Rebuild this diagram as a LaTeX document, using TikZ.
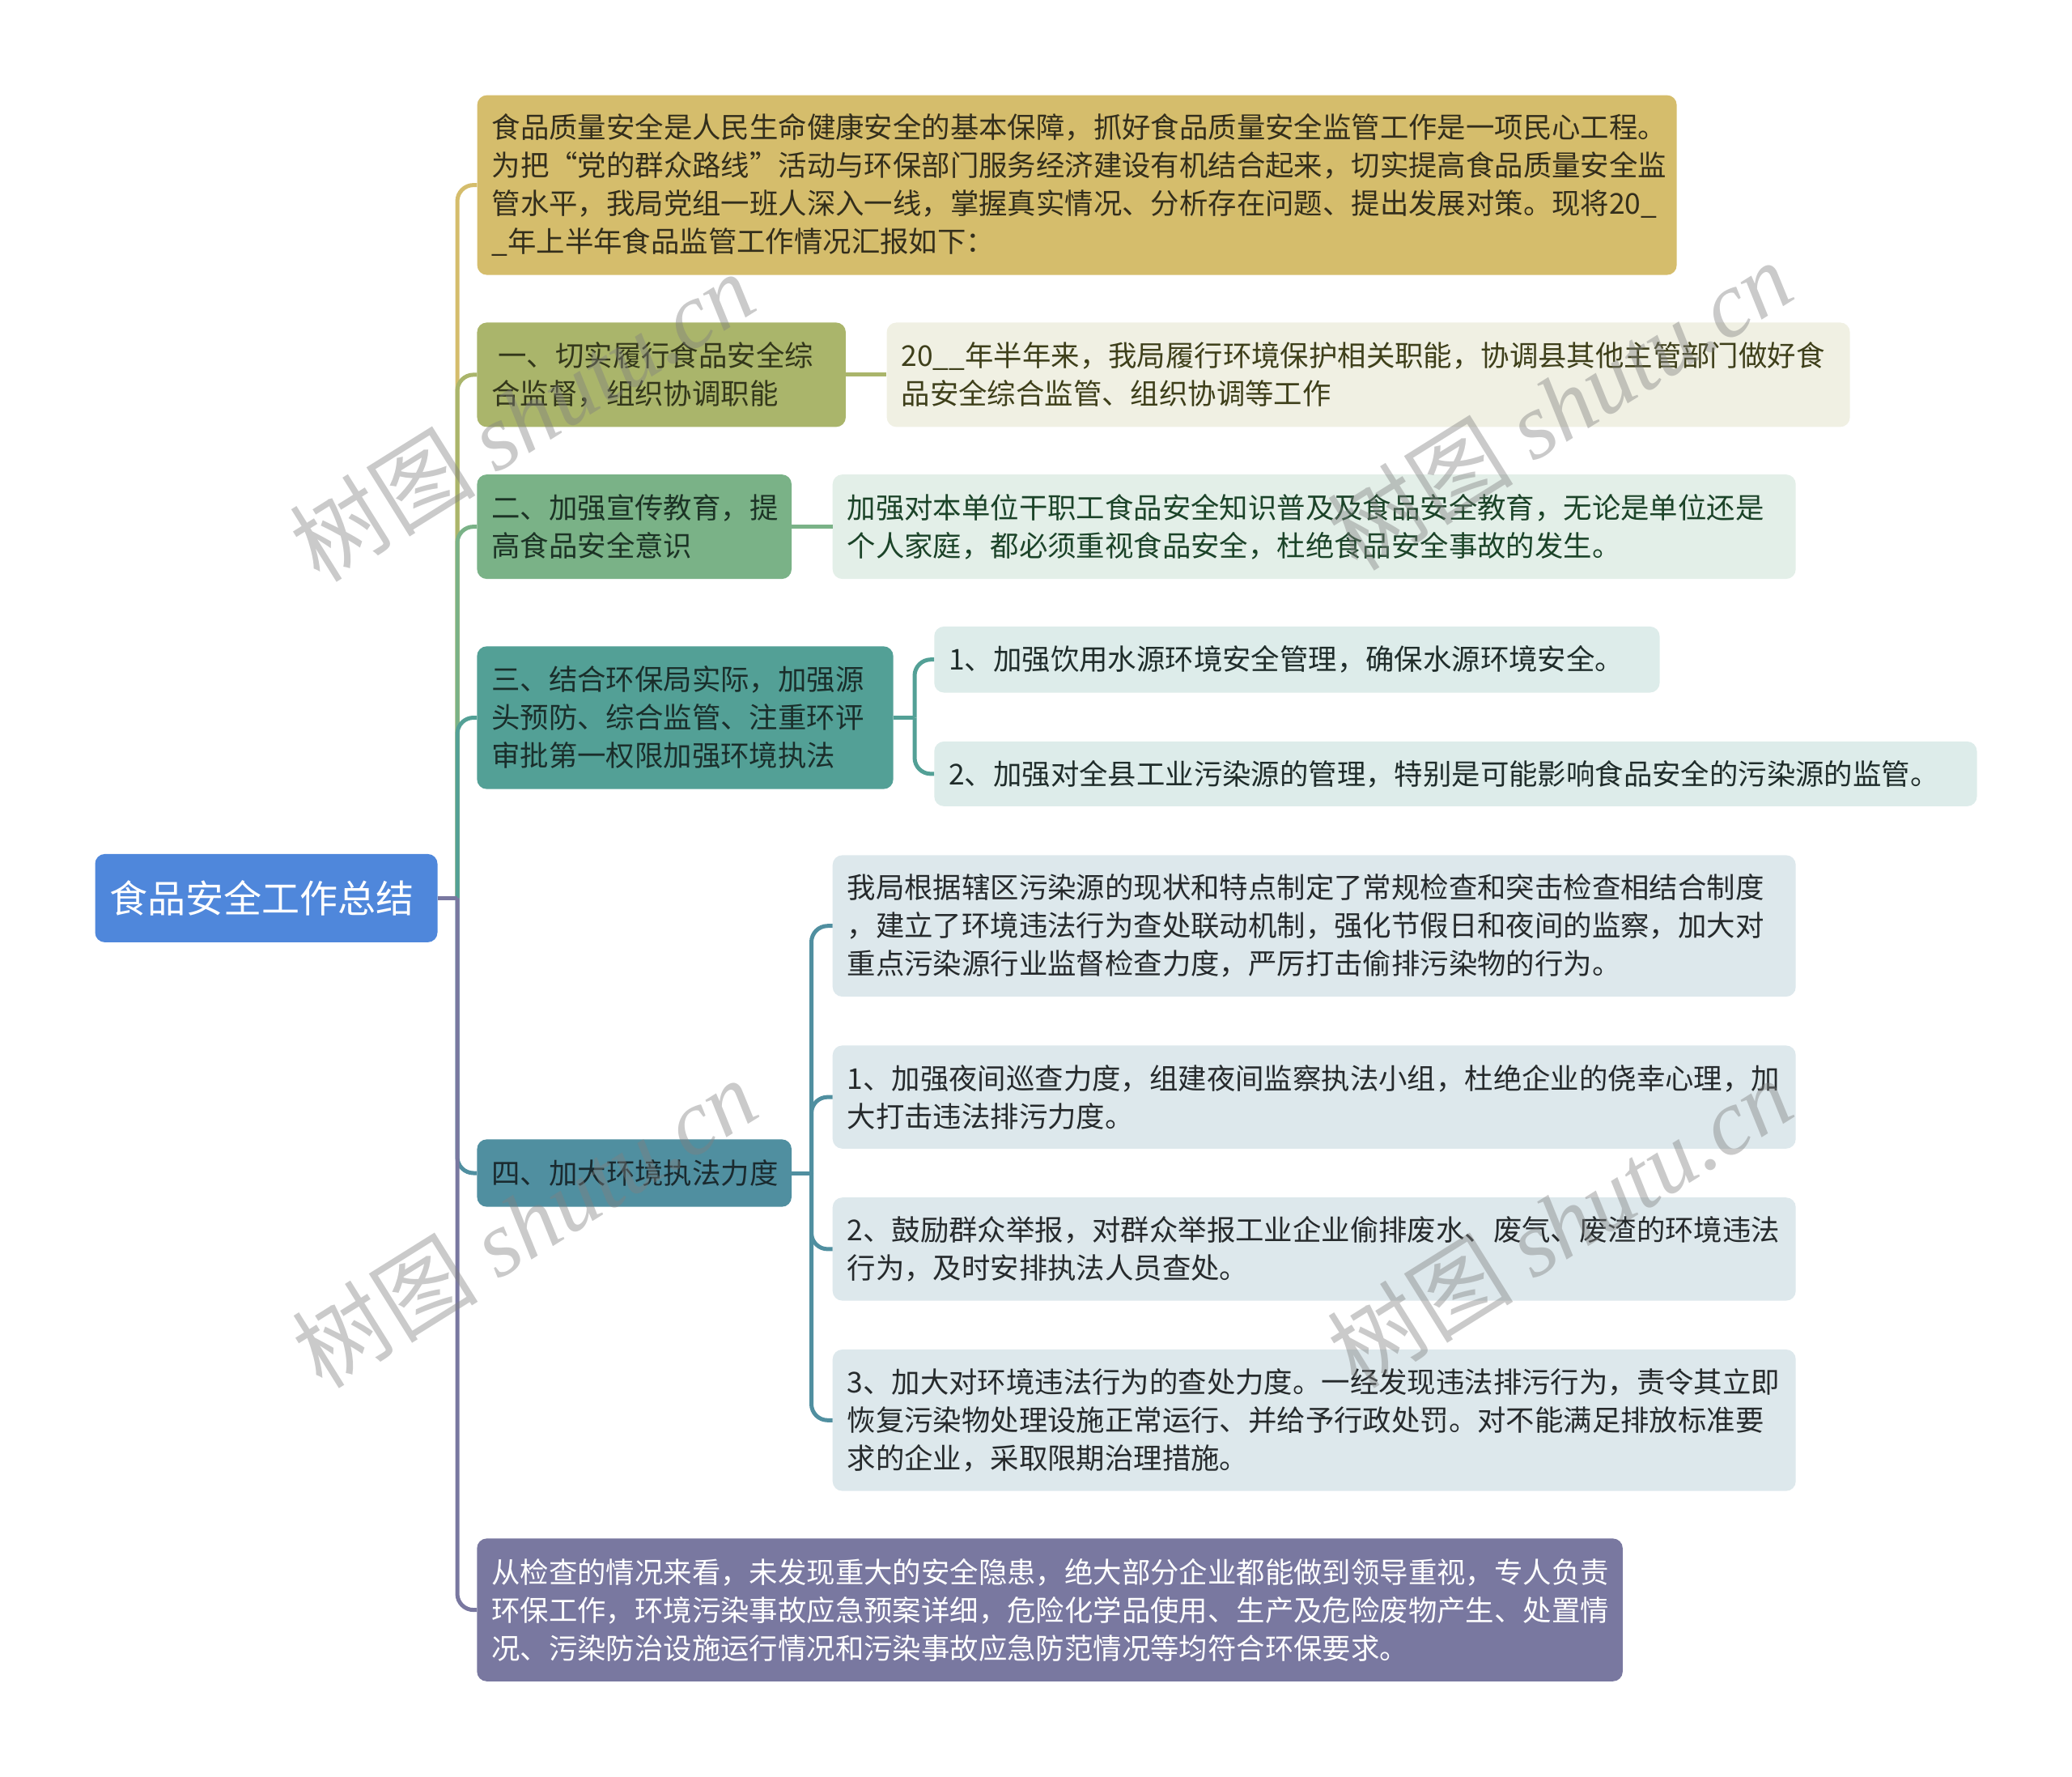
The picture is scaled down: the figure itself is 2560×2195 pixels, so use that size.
\documentclass[tikz,border=0pt]{standalone}
\usepackage{fontspec}
\setmainfont{Noto Sans CJK SC}
\newfontfamily\wmlat{Liberation Serif}
\definecolor{cRoot}{HTML}{4F87DB}
\definecolor{cA}{HTML}{D5BD6C}
\definecolor{cB1}{HTML}{AAB56B}
\definecolor{cB1c}{HTML}{F0F0E3}
\definecolor{cB2}{HTML}{7AB287}
\definecolor{cB2c}{HTML}{E3EFE8}
\definecolor{cB3}{HTML}{53A096}
\definecolor{cB3c}{HTML}{DDECEA}
\definecolor{cB4}{HTML}{508FA0}
\definecolor{cB4c}{HTML}{DDE8EC}
\definecolor{cB5}{HTML}{7978A0}
\definecolor{tA}{HTML}{332E1C}
\definecolor{tB1}{HTML}{33371B}
\definecolor{tB1c}{HTML}{3E3F1A}
\definecolor{tB2}{HTML}{1C3325}
\definecolor{tB2c}{HTML}{1B4328}
\definecolor{tB3}{HTML}{1A2E2B}
\definecolor{tB3c}{HTML}{1F2C2A}
\definecolor{tB4}{HTML}{1A2A2F}
\definecolor{tB4c}{HTML}{262A2C}
\begin{document}
\begin{tikzpicture}[x=1pt,y=-1pt,
  box/.style={rounded corners=12pt, align=left, inner xsep=18pt, inner ysep=0pt,
    font=\fontsize{35.4}{47}\selectfont, anchor=center},
  link/.style={line width=5pt, rounded corners=20pt},
  wm/.style={text=gray, opacity=0.42, rotate=32, font=\fontsize{115}{115}\selectfont, anchor=center}
]
\useasboundingbox (0,0) rectangle (2560,2195);

% root
\node[box, fill=cRoot, text=white, font=\fontsize{47}{56}\selectfont,
  minimum width=423pt, minimum height=109pt, text width=387pt] (root) at (329,1109.4) {食品安全工作总结};

% main branches
\node[box, fill=cA, text=tA, minimum width=1482pt, minimum height=222pt, text width=1446pt] (A) at (1330.6,228.6)
 {食品质量安全是人民生命健康安全的基本保障，抓好食品质量安全监管工作是一项民心工程。\\
  为把“党的群众路线”活动与环保部门服务经济建设有机结合起来，切实提高食品质量安全监\\
  管水平，我局党组一班人深入一线，掌握真实情况、分析存在问题、提出发展对策。现将20\_\\
  \_年上半年食品监管工作情况汇报如下：};

\node[box, fill=cB1, text=tB1, minimum width=455.5pt, minimum height=129pt, text width=419.5pt] (B1) at (817.2,462.9)
 {\hspace*{8pt}一、切实履行食品安全综\\合监督，组织协调职能};
\node[box, fill=cB1c, text=tB1c, minimum width=1190pt, minimum height=129pt, text width=1154pt] (B1c) at (1690.6,462.9)
 {20\_\_年半年来，我局履行环境保护相关职能，协调县其他主管部门做好食\\品安全综合监管、组织协调等工作};

\node[box, fill=cB2, text=tB2, minimum width=388.6pt, minimum height=129pt, text width=352.6pt] (B2) at (783.7,650.6)
 {二、加强宣传教育，提\\高食品安全意识};
\node[box, fill=cB2c, text=tB2c, minimum width=1190pt, minimum height=129pt, text width=1154pt] (B2c) at (1623.7,650.6)
 {加强对本单位干职工食品安全知识普及及食品安全教育，无论是单位还是\\个人家庭，都必须重视食品安全，杜绝食品安全事故的发生。};

\node[box, fill=cB3, text=tB3, minimum width=514.3pt, minimum height=176.3pt, text width=478.3pt] (B3) at (846.5,886.5)
 {三、结合环保局实际，加强源\\头预防、综合监管、注重环评\\审批第一权限加强环境执法};
\node[box, fill=cB3c, text=tB3c, minimum width=896.3pt, minimum height=81.6pt, text width=860.3pt] (B3c1) at (1602.4,814.7)
 {1、加强饮用水源环境安全管理，确保水源环境安全。};
\node[box, fill=cB3c, text=tB3c, minimum width=1288.2pt, minimum height=80pt, text width=1252.2pt] (B3c2) at (1798.4,955.9)
 {2、加强对全县工业污染源的管理，特别是可能影响食品安全的污染源的监管。};

\node[box, fill=cB4, text=tB4, minimum width=388.6pt, minimum height=83.3pt, text width=352.6pt] (B4) at (783.7,1449)
 {四、加大环境执法力度};
\node[box, fill=cB4c, text=tB4c, minimum width=1190pt, minimum height=174.7pt, text width=1154pt] (D0) at (1623.7,1143.7)
 {我局根据辖区污染源的现状和特点制定了常规检查和突击检查相结合制度\\，建立了环境违法行为查处联动机制，强化节假日和夜间的监察，加大对\\重点污染源行业监督检查力度，严厉打击偷排污染物的行为。};
\node[box, fill=cB4c, text=tB4c, minimum width=1190pt, minimum height=127.4pt, text width=1154pt] (D1) at (1623.7,1355.1)
 {1、加强夜间巡查力度，组建夜间监察执法小组，杜绝企业的侥幸心理，加\\大打击违法排污力度。};
\node[box, fill=cB4c, text=tB4c, minimum width=1190pt, minimum height=127.4pt, text width=1154pt] (D2) at (1623.7,1542.9)
 {2、鼓励群众举报，对群众举报工业企业偷排废水、废气、废渣的环境违法\\行为，及时安排执法人员查处。};
\node[box, fill=cB4c, text=tB4c, minimum width=1190pt, minimum height=174.7pt, text width=1154pt] (D3) at (1623.7,1754.3)
 {3、加大对环境违法行为的查处力度。一经发现违法排污行为，责令其立即\\恢复污染物处理设施正常运行、并给予行政处罚。对不能满足排放标准要\\求的企业，采取限期治理措施。};

\node[box, fill=cB5, text=white, minimum width=1415.5pt, minimum height=176.4pt, text width=1379.5pt] (B5) at (1297.1,1988.6)
 {从检查的情况来看，未发现重大的安全隐患，绝大部分企业都能做到领导重视，专人负责\\环保工作，环境污染事故应急预案详细，危险化学品使用、生产及危险废物产生、处置情\\况、污染防治设施运行情况和污染事故应急防范情况等均符合环保要求。};

% connectors
\coordinate (tr) at (565,1109.4);
\coordinate (b3) at (1130,886.5);
\coordinate (b4) at (1002.5,1449);
\draw[link, cA] (tr) |- (A.west);
\draw[link, cB1] (tr) |- (B1.west);
\draw[link, cB2] (tr) |- (B2.west);
\draw[link, cB3] (tr) |- (B3.west);
\draw[link, cB4] (tr) |- (B4.west);
\draw[link, cB5] (tr) |- (B5.west);
\draw[link, cB5] (root.east) -- (tr);

\draw[link, cB1] (B1.east) -- (B1c.west);
\draw[link, cB2] (B2.east) -- (B2c.west);
\draw[link, cB3] (B3.east) -- (b3);
\draw[link, cB3] (b3) |- (B3c1.west);
\draw[link, cB3] (b3) |- (B3c2.west);
\draw[link, cB4] (B4.east) -- (b4);
\draw[link, cB4] (b4) |- (D0.west);
\draw[link, cB4] (b4) |- (D1.west);
\draw[link, cB4] (b4) |- (D2.west);
\draw[link, cB4] (b4) |- (D3.west);

% watermarks
\node[wm] (w1) at (645,514) {树图 {\wmlat\itshape shutu.cn}};
\node[wm] (w2) at (1927,500) {树图 {\wmlat\itshape shutu.cn}};
\node[wm] (w3) at (648,1510) {树图 {\wmlat\itshape shutu.cn}};
\node[wm] (w4) at (1927,1510) {树图 {\wmlat\itshape shutu.cn}};
\end{tikzpicture}
\end{document}
